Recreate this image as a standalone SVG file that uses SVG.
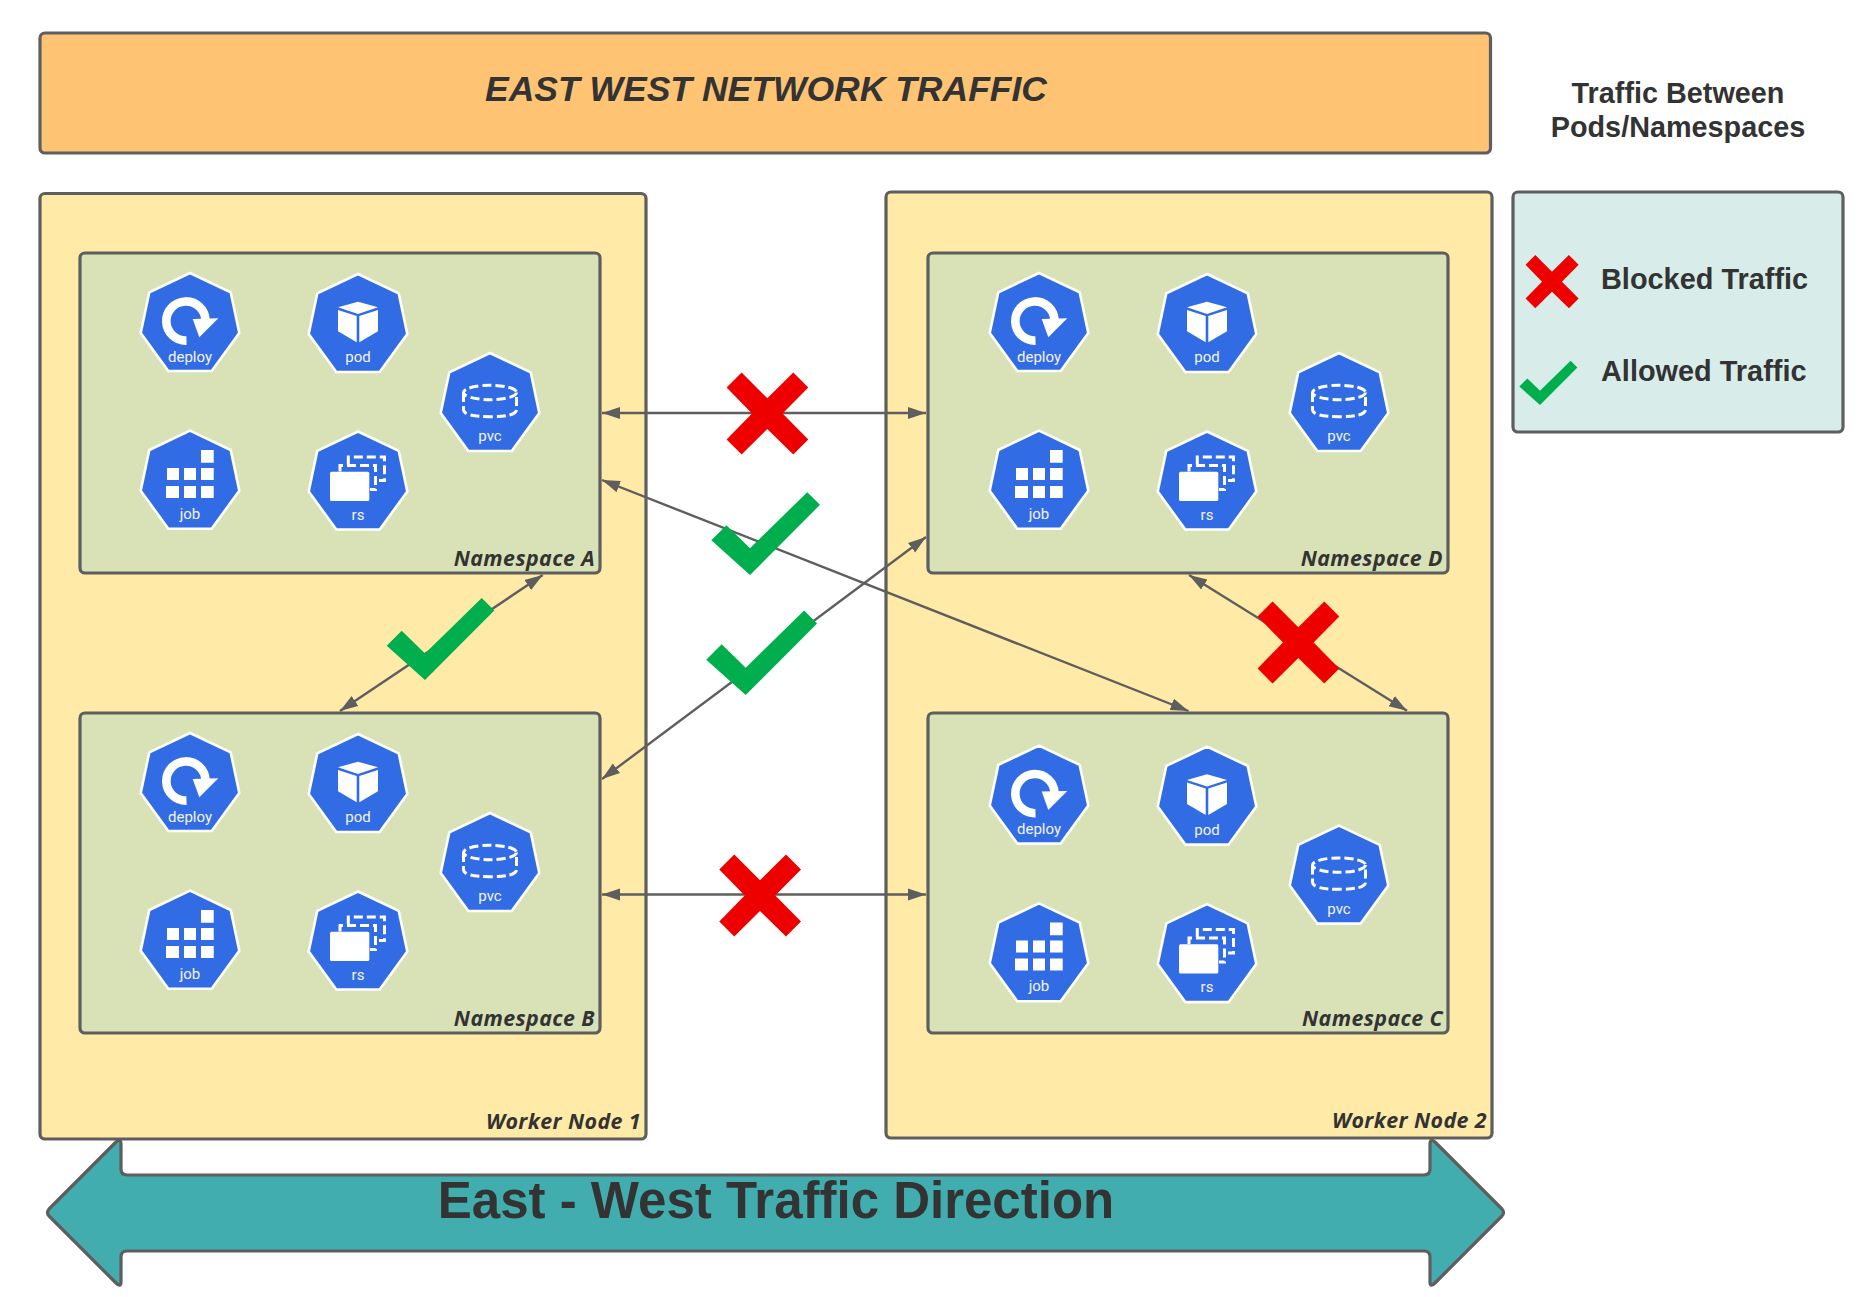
<svg xmlns="http://www.w3.org/2000/svg" width="1862" height="1297" viewBox="0 0 1862 1297">
<style>
.box{stroke:#5e5e5e;stroke-width:3.2}
.hdr{fill:#ffc374}.wk{fill:#ffeaa7}.ns{fill:#d8e2b6}.lg{fill:#d8edea}
.conn{stroke:#5e5e5e;stroke-width:2.4;fill:none;marker-start:url(#ah);marker-end:url(#ah)}
.x{fill:#ee0000}.c{fill:#00ae4d}
.t{font-family:"Liberation Sans",Arial,sans-serif;font-weight:700;fill:#333}
.lab{font-family:"Open Sans",sans-serif;font-weight:700;font-style:italic;font-size:21.4px;fill:#333;text-anchor:end;letter-spacing:.4px}
.il{font-family:Roboto,sans-serif;font-size:15px;fill:#f4f4f4;text-anchor:middle}
.w{fill:#fff}.d{fill:none;stroke:#fff;stroke-width:3;stroke-dasharray:9 4}
</style>
<defs>
<marker id="ah" markerUnits="userSpaceOnUse" markerWidth="20" markerHeight="14" refX="18" refY="6.5" orient="auto-start-reverse"><path d="M0,0.5 L18,6.5 L0,12.5 Z" fill="#5e5e5e"/></marker>
<polygon id="hept" points="0,0 40.7,19.3 49.3,60 21.7,98 -21.7,98 -49.3,60 -40.7,19.3" fill="#326ce5" stroke="#fff" stroke-width="2.6" stroke-linejoin="round"/>
<g id="g-deploy"><use href="#hept"/><path d="M-3.5,67.6 A19.6,19.6 0 1 1 15.5,47" fill="none" stroke="#fff" stroke-width="8.6"/><polygon class="w" points="28.3,45.3 2.7,46 9.3,64.3"/></g>
<g id="g-pod"><use href="#hept"/><g transform="translate(0,1)"><polygon class="w" points="-20,32.3 0,26.7 20,32.3 0,39"/><polygon class="w" points="-20,35 -1.3,41 -1.3,67.3 -20,56.3"/><polygon class="w" points="20,35 1.3,41 1.3,67.3 20,56.3"/></g></g>
<g id="g-job"><use href="#hept"/><path class="w" transform="translate(0,1)" d="M11,18.3h12.7v12.7h-12.7zM-23,36.3h12v12h-12zM-6,36.3h12v12h-12zM11,36.3h12.7v12h-12.7zM-24,54.3h13v12h-13zM-6,54.3h12v12h-12zM11,54.3h12.7v12h-12.7z"/></g>
<g id="g-rs"><use href="#hept"/><rect class="w" x="-28" y="40.2" width="39.3" height="29.3" rx="1.5"/><path class="d" d="M-18,40V34H17.5V58H12"/><path class="d" d="M-9.7,33V25.5H26.5V49H21"/></g>
<g id="g-pvc"><use href="#hept"/><ellipse class="d" cx="0" cy="39.5" rx="26.5" ry="7.2"/><path class="d" d="M-26.5,40V56.5Q-26.5,63.7 0,63.7Q26.5,63.7 26.5,56.5V40"/></g>
<polygon id="xm" class="x" points="-40.7,-26 -25.7,-41 0,-15.3 26,-41 41,-26 15.3,0 41,26 26,41 0,15.6 -25.7,41 -40.7,26 -15.3,0"/>
<polygon id="ck" class="c" points="-38.3,-34.3 -23.3,-49.3 0,-26.5 56.7,-82 69.3,-69.5 0,0"/>
</defs>

<g id="header"><rect class="box hdr" x="40" y="33" width="1450.5" height="120" rx="5"/><text class="t" x="766" y="101" font-size="35.5" font-style="italic" text-anchor="middle">EAST WEST NETWORK TRAFFIC</text></g>
<g id="legend-title"><text class="t" x="1678" y="102.6" font-size="28.8" text-anchor="middle">Traffic Between</text><text class="t" x="1678" y="137" font-size="28.8" text-anchor="middle">Pods/Namespaces</text></g>
<g id="legend"><rect class="box lg" x="1513" y="192" width="330" height="240" rx="5"/>
<use href="#xm" transform="translate(1552,281.7) scale(.65)"/><text class="t" x="1601" y="289" font-size="28.9">Blocked Traffic</text>
<use href="#ck" transform="translate(1540,405) scale(.54)"/><text class="t" x="1601" y="381" font-size="28.9">Allowed Traffic</text></g>

<g id="worker-node-1"><rect class="box wk" x="40" y="193.5" width="606" height="945.5" rx="5"/><text class="lab" x="641" y="1129">Worker Node 1</text></g>
<g id="worker-node-2"><rect class="box wk" x="886" y="192" width="606" height="946" rx="5"/><text class="lab" x="1487" y="1128">Worker Node 2</text></g>

<g id="namespace-a"><rect class="box ns" x="80" y="253" width="520" height="320" rx="5"/><text class="lab" x="595" y="566">Namespace A</text></g>
<g id="namespace-b"><rect class="box ns" x="80" y="713" width="520" height="320" rx="5"/><text class="lab" x="595" y="1026">Namespace B</text></g>
<g id="namespace-d"><rect class="box ns" x="928" y="253" width="520" height="320" rx="5"/><text class="lab" x="1443" y="566">Namespace D</text></g>
<g id="namespace-c"><rect class="box ns" x="928" y="713" width="520" height="320" rx="5"/><text class="lab" x="1443" y="1026">Namespace C</text></g>

<g id="a-deploy" transform="translate(190,273)"><use href="#g-deploy"/><text class="il" y="88.5">deploy</text></g>
<g id="a-pod" transform="translate(358,274)"><use href="#g-pod"/><text class="il" y="88">pod</text></g>
<g id="a-job" transform="translate(190,430.7)"><use href="#g-job"/><text class="il" y="88">job</text></g>
<g id="a-rs" transform="translate(358,431.5)"><use href="#g-rs"/><text class="il" y="88">rs</text></g>
<g id="a-pvc" transform="translate(490,353)"><use href="#g-pvc"/><text class="il" y="88">pvc</text></g>

<g id="b-deploy" transform="translate(190,733)"><use href="#g-deploy"/><text class="il" y="88.5">deploy</text></g>
<g id="b-pod" transform="translate(358,734)"><use href="#g-pod"/><text class="il" y="88">pod</text></g>
<g id="b-job" transform="translate(190,890.7)"><use href="#g-job"/><text class="il" y="88">job</text></g>
<g id="b-rs" transform="translate(358,891.5)"><use href="#g-rs"/><text class="il" y="88">rs</text></g>
<g id="b-pvc" transform="translate(490,813)"><use href="#g-pvc"/><text class="il" y="88">pvc</text></g>

<g id="d-deploy" transform="translate(1039,273)"><use href="#g-deploy"/><text class="il" y="88.5">deploy</text></g>
<g id="d-pod" transform="translate(1207,274)"><use href="#g-pod"/><text class="il" y="88">pod</text></g>
<g id="d-job" transform="translate(1039,430.7)"><use href="#g-job"/><text class="il" y="88">job</text></g>
<g id="d-rs" transform="translate(1207,431.5)"><use href="#g-rs"/><text class="il" y="88">rs</text></g>
<g id="d-pvc" transform="translate(1339,353)"><use href="#g-pvc"/><text class="il" y="88">pvc</text></g>

<g id="c-deploy" transform="translate(1039,745.6)"><use href="#g-deploy"/><text class="il" y="88.5">deploy</text></g>
<g id="c-pod" transform="translate(1207,746.6)"><use href="#g-pod"/><text class="il" y="88">pod</text></g>
<g id="c-job" transform="translate(1039,903.3)"><use href="#g-job"/><text class="il" y="88">job</text></g>
<g id="c-rs" transform="translate(1207,904.1)"><use href="#g-rs"/><text class="il" y="88">rs</text></g>
<g id="c-pvc" transform="translate(1339,825.6)"><use href="#g-pvc"/><text class="il" y="88">pvc</text></g>

<g id="connectors">
<line class="conn" x1="602" y1="413" x2="926" y2="413"/>
<line class="conn" x1="602" y1="894.5" x2="926" y2="894.5"/>
<line class="conn" x1="602" y1="480" x2="1188.5" y2="711"/>
<line class="conn" x1="926" y1="537" x2="602" y2="779"/>
<line class="conn" x1="542.7" y1="575" x2="340" y2="711"/>
<line class="conn" x1="1189" y1="575" x2="1407" y2="710.7"/>
</g>

<g id="mark-x-ad"><use href="#xm" transform="translate(767.3,413.5)"/></g>
<g id="mark-x-bc"><use href="#xm" transform="translate(760,895.5)"/></g>
<g id="mark-x-dc"><use href="#xm" transform="translate(1298.3,642.5)"/></g>
<g id="mark-check-ac"><use href="#ck" transform="translate(750,575) scale(1.01)"/></g>
<g id="mark-check-db"><use href="#ck" transform="translate(745.7,695) scale(1.03)"/></g>
<g id="mark-check-ab"><use href="#ck" transform="translate(425,680)"/></g>

<g id="direction-arrow"><path class="box" fill="#41adaf" stroke-linejoin="round" d="M49,1209 L116,1142 Q121,1138 121,1144 V1169 Q121,1175 127,1175 H1424 Q1430,1175 1430,1169 V1144 Q1430,1138 1435,1142 L1502,1209 Q1505,1212.7 1502,1216 L1435,1283 Q1430,1288 1430,1282 V1257 Q1430,1251 1424,1251 H127 Q121,1251 121,1257 V1282 Q121,1288 116,1283 L49,1216 Q46,1212.7 49,1209 Z"/><text class="t" x="776" y="1218" font-size="51" text-anchor="middle">East - West Traffic Direction</text></g>
</svg>
